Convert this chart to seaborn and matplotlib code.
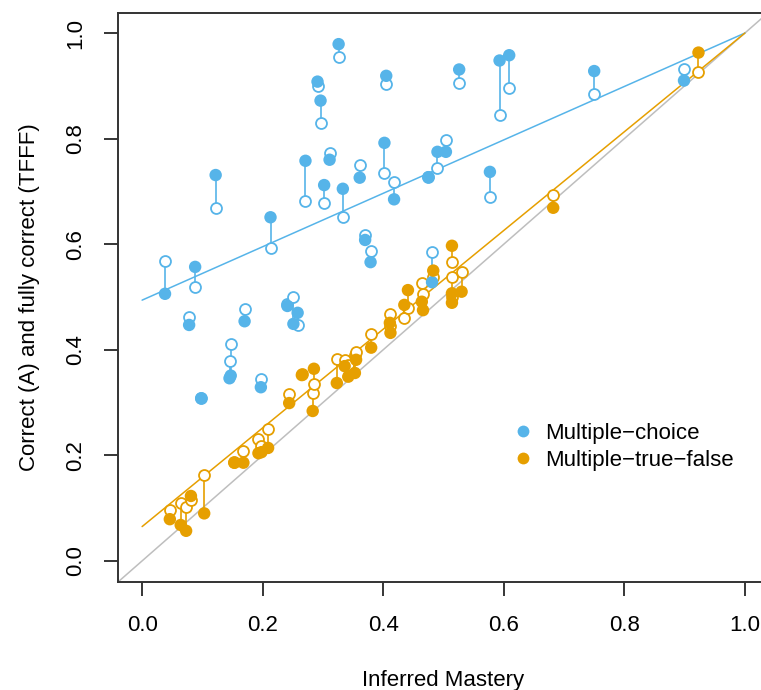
import numpy as np
import pandas as pd
import matplotlib
matplotlib.use("Agg")
import matplotlib.pyplot as plt
import seaborn as sns

# -----------------------
# Data
# -----------------------
# multiple-choice items
mc_mastery = [0.038, 0.078, 0.088, 0.098, 0.122, 0.145, 0.147, 0.170, 0.197, 0.213,
              0.241, 0.251, 0.258, 0.271, 0.291, 0.296, 0.302, 0.311, 0.326, 0.333,
              0.361, 0.370, 0.379, 0.402, 0.405, 0.418, 0.475, 0.481, 0.490, 0.504,
              0.526, 0.577, 0.593, 0.609, 0.750, 0.899]
mc_correct = [0.506, 0.447, 0.557, 0.308, 0.731, 0.346, 0.351, 0.454, 0.329, 0.651,
              0.483, 0.449, 0.470, 0.758, 0.908, 0.872, 0.712, 0.760, 0.979, 0.705,
              0.726, 0.608, 0.566, 0.792, 0.919, 0.685, 0.727, 0.528, 0.775, 0.775,
              0.931, 0.737, 0.948, 0.958, 0.928, 0.910]
mc_tfff = [0.568, 0.463, 0.518, 0.308, 0.668, 0.379, 0.411, 0.478, 0.345, 0.592,
           0.487, 0.499, 0.446, 0.682, 0.900, 0.830, 0.678, 0.772, 0.954, 0.652,
           0.750, 0.617, 0.588, 0.735, 0.903, 0.718, 0.727, 0.586, 0.745, 0.797,
           0.906, 0.689, 0.845, 0.895, 0.884, 0.932]

# multiple-true-false items
mtf_mastery = [0.046, 0.064, 0.073, 0.081, 0.103, 0.153, 0.168, 0.193, 0.198, 0.209,
               0.244, 0.265, 0.283, 0.285, 0.323, 0.336, 0.342, 0.353, 0.355, 0.380,
               0.411, 0.412, 0.435, 0.441, 0.464, 0.466, 0.483, 0.514, 0.514, 0.514,
               0.530, 0.682, 0.923]
mtf_correct = [0.079, 0.068, 0.057, 0.123, 0.090, 0.186, 0.186, 0.204, 0.206, 0.214,
               0.299, 0.352, 0.284, 0.364, 0.337, 0.369, 0.349, 0.356, 0.381, 0.404,
               0.451, 0.432, 0.485, 0.513, 0.491, 0.475, 0.550, 0.597, 0.507, 0.489,
               0.510, 0.669, 0.963]
mtf_tfff = [0.097, 0.109, 0.103, 0.116, 0.163, 0.188, 0.208, 0.230, 0.218, 0.250,
            0.316, 0.355, 0.318, 0.335, 0.383, 0.380, 0.372, 0.390, 0.396, 0.430,
            0.468, 0.445, 0.461, 0.480, 0.526, 0.505, 0.538, 0.567, 0.538, 0.500,
            0.548, 0.694, 0.926]

# fitted lines (end points)
fit_x = [0.0, 1.0]
mc_fit = [0.494, 1.0]
mtf_fit = [0.065, 1.0]

types = ["Multiple\u2212choice", "Multiple\u2212true\u2212false"]
colors = ["#56B4E9", "#E69F00"]

df = pd.concat([
    pd.DataFrame({"mastery": mc_mastery, "correct": mc_correct, "tfff": mc_tfff, "type": types[0]}),
    pd.DataFrame({"mastery": mtf_mastery, "correct": mtf_correct, "tfff": mtf_tfff, "type": types[1]}),
], ignore_index=True)

sns.set_style("ticks")
plt.rcParams["font.family"] = ["Liberation Sans", "DejaVu Sans"]
plt.rcParams["text.color"] = "black"
plt.rcParams["axes.labelcolor"] = "black"
plt.rcParams["xtick.color"] = "black"
plt.rcParams["ytick.color"] = "black"

fig = plt.figure(figsize=(7.61, 6.9), dpi=100)
ax = fig.add_axes([118 / 761, 108 / 690, 651 / 761, 569 / 690])

# diagonal
ax.axline((0, 0), (1, 1), color="#BEBEBE", lw=1.1, zorder=1)

# fitted lines
sns.lineplot(x=fit_x, y=mc_fit, color=colors[0], lw=1.1, ax=ax, zorder=2)
sns.lineplot(x=fit_x, y=mtf_fit, color=colors[1], lw=1.1, ax=ax, zorder=2)

# connectors + open circles (TFFF)
for t, c in zip(types, colors):
    sub = df[df["type"] == t]
    ax.vlines(sub["mastery"], sub["correct"], sub["tfff"], color=c, lw=1.2, zorder=3)
    sns.scatterplot(data=sub, x="mastery", y="tfff", color=c, facecolor="white",
                    edgecolor=c, linewidth=1.3, s=62, ax=ax, zorder=4, legend=False)

# filled circles (A)
sns.scatterplot(data=df, x="mastery", y="correct", hue="type", hue_order=types,
                palette=colors, s=80, linewidth=0, ax=ax, zorder=5)

ax.set_xlim(-0.04, 1.04)
ax.set_ylim(-0.04, 1.038)
ticks = [0.0, 0.2, 0.4, 0.6, 0.8, 1.0]
ax.set_xticks(ticks)
ax.set_xticklabels([f"{v:.1f}" for v in ticks])
ax.set_yticks(ticks)
ax.set_yticklabels([f"{v:.1f}" for v in ticks], rotation=90, va="center")
ax.tick_params(axis="both", length=10, width=1.1, labelsize=16, color="black")
ax.tick_params(axis="x", pad=14)
ax.tick_params(axis="y", pad=13)
for sp in ax.spines.values():
    sp.set_color("#333333")
    sp.set_linewidth(1.4)

ax.set_xlabel("Inferred Mastery", fontsize=16)
ax.set_ylabel("Correct (A) and fully correct (TFFF)", fontsize=16)
ax.xaxis.set_label_coords(0.5, -0.155)
ax.yaxis.set_label_coords(-0.12, 0.5)

leg = ax.legend(frameon=False, fontsize=16, loc="upper left",
                bbox_to_anchor=(0.585, 0.295), handlelength=1.4, handletextpad=0.3,
                labelspacing=0.25, borderaxespad=0)
for h in leg.legend_handles:
    h.set_markersize(8.5)

fig.savefig("out.png", dpi=100)
